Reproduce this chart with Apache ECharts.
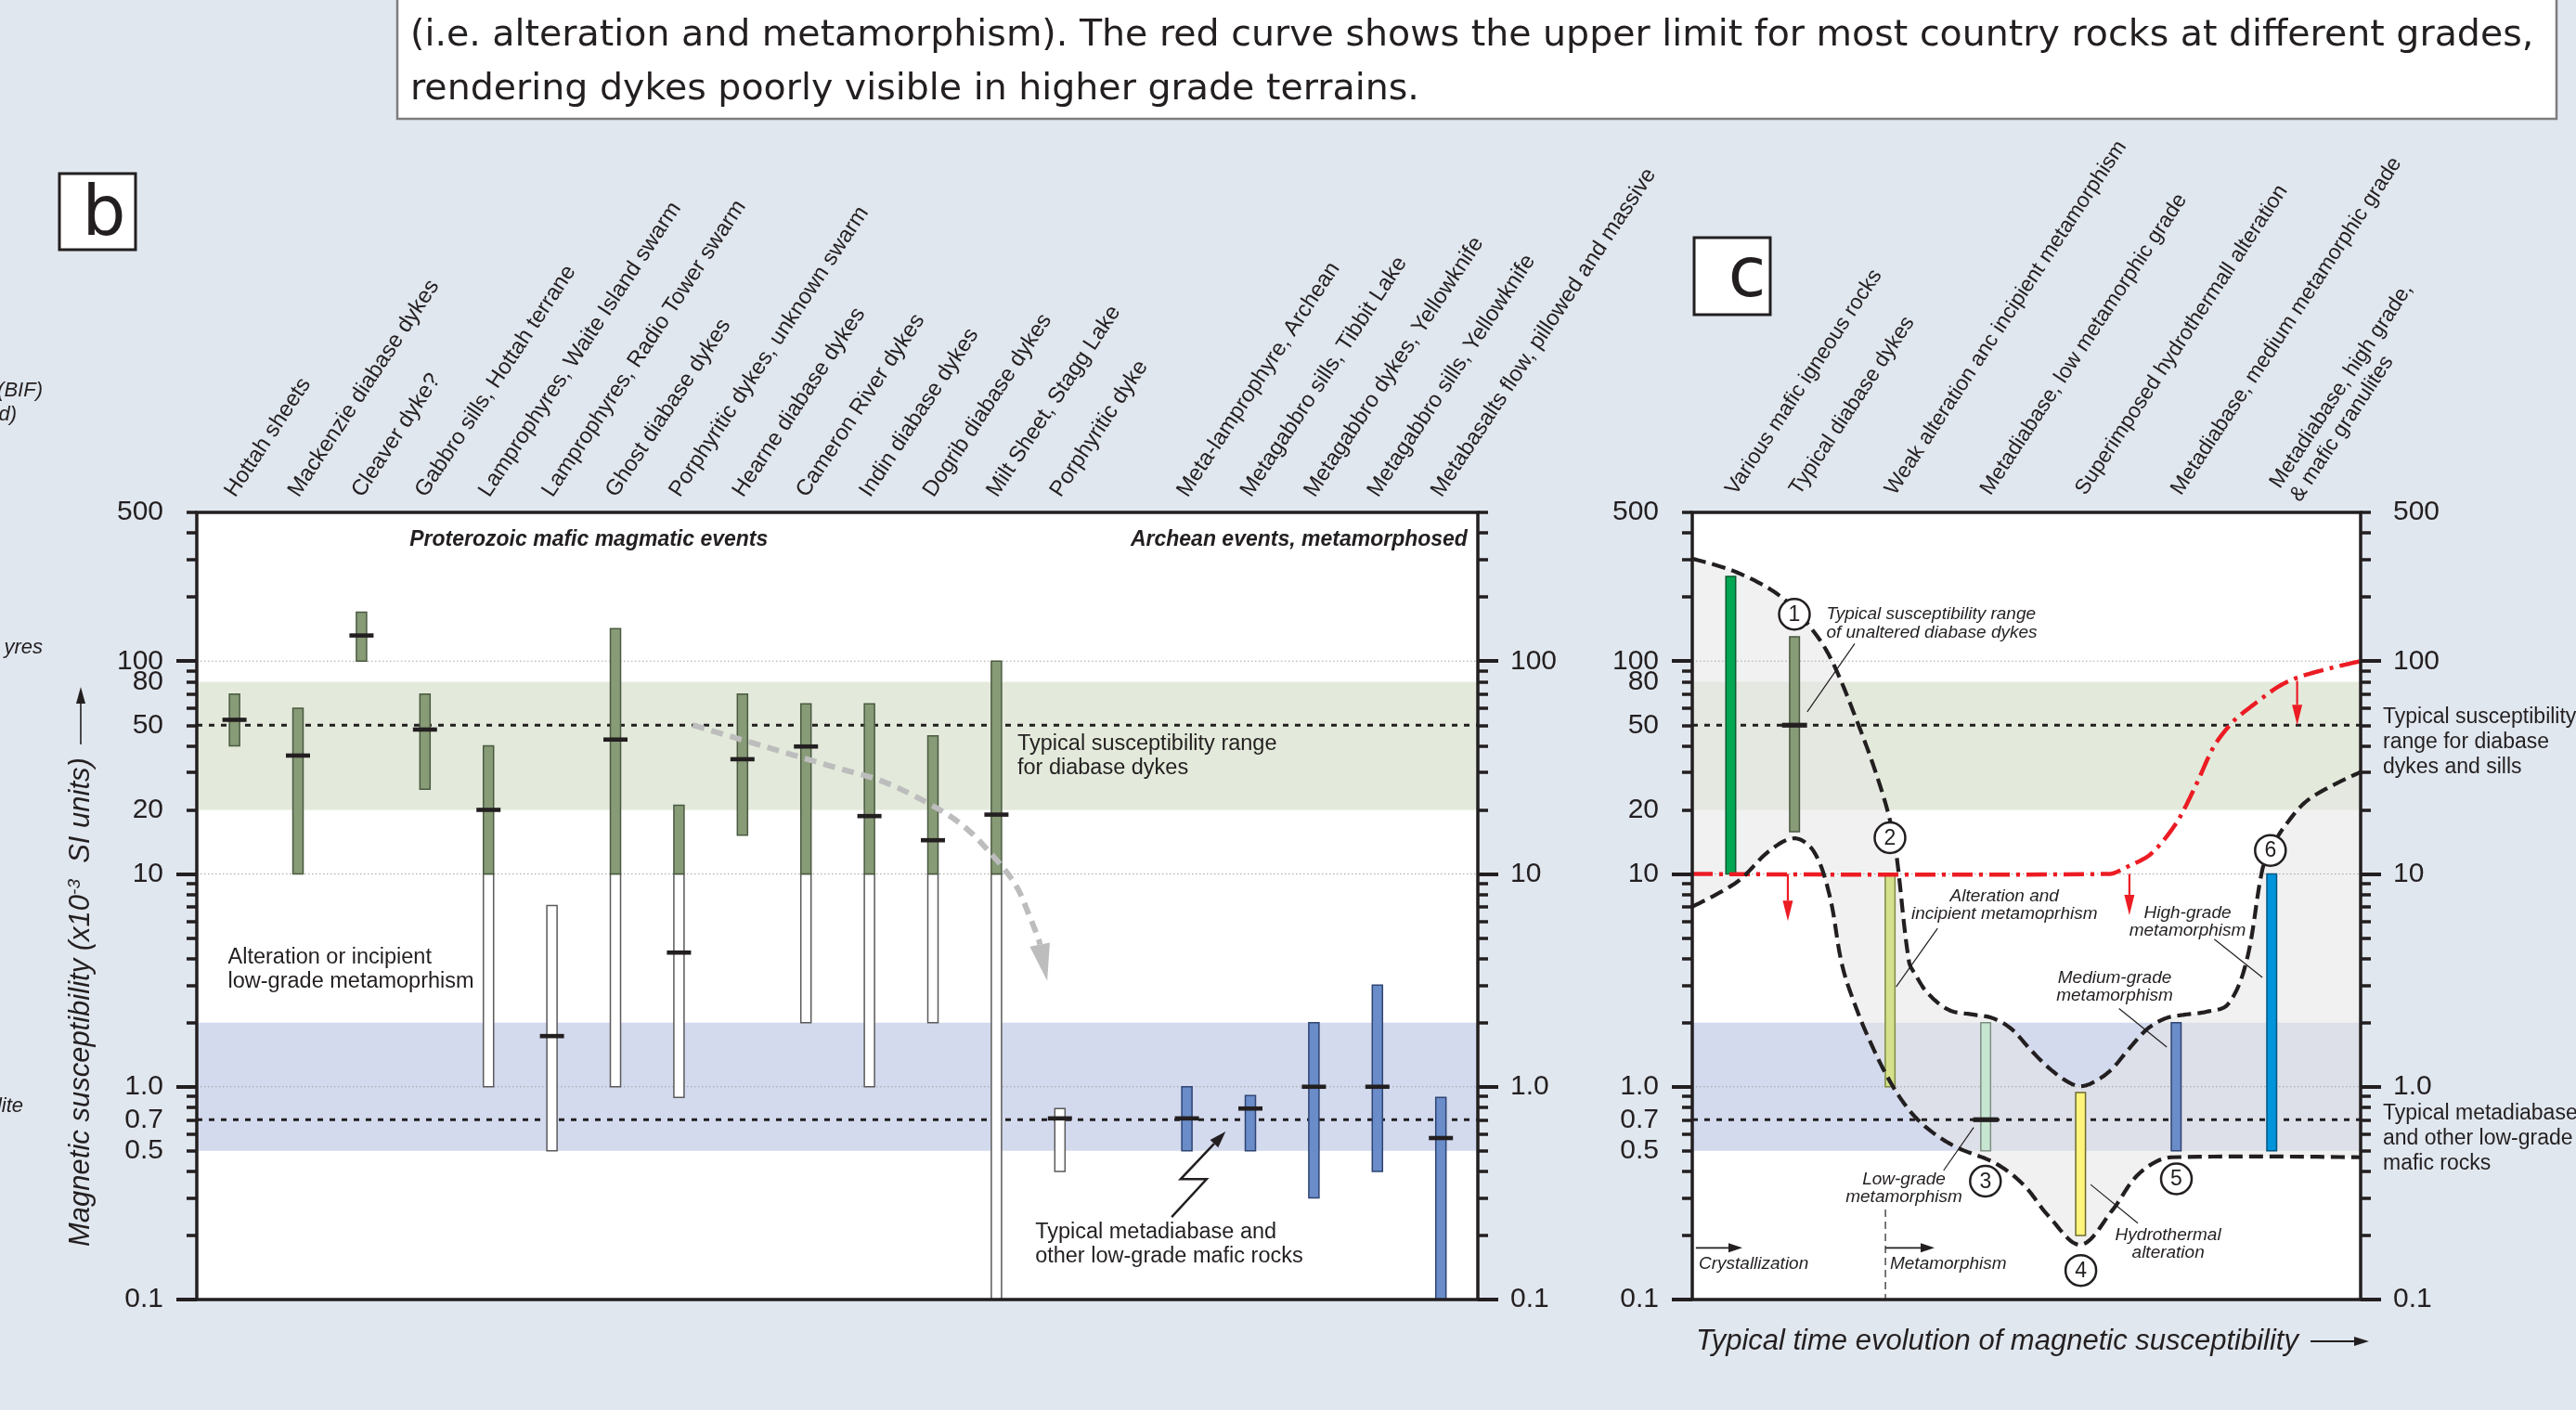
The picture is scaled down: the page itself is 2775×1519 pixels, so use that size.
<!DOCTYPE html>
<html>
<head>
<meta charset="utf-8">
<title>Magnetic susceptibility of mafic dykes</title>
<script src="https://cdn.jsdelivr.net/npm/echarts@6.0.0/dist/echarts.min.js"></script>
<style>
html,body{margin:0;padding:0;background:#e1e7ef;overflow:hidden}
#chart{width:2775px;height:1519px}
</style>
</head>
<body>
<div id="chart"></div>
<script>
// ================= DATA : panel b (measured populations) =================
const dykeNames = ['Hottah sheets','Mackenzie diabase dykes','Cleaver dyke?','Gabbro sills, Hottah terrane',
  'Lamprophyres, Waite Island swarm','Lamprophyres, Radio Tower swarm','Ghost diabase dykes',
  'Porphyritic dykes, unknown swarm','Hearne diabase dykes','Cameron River dykes','Indin diabase dykes',
  'Dogrib diabase dykes','Milt Sheet, Stagg Lake','Porphyritic dyke','',
  'Meta-lamprophyre, Archean','Metagabbro sills, Tibbit Lake','Metagabbro dykes, Yellowknife',
  'Metagabbro sills, Yellowknife','Metabasalts flow, pillowed and massive'];
const dykeGroup   = ['P','P','P','P','P','P','P','P','P','P','P','P','P','P','','A','A','A','A','A'];
const freshLow    = [40, 10, 100, 25, 10, null, 10, 10, 15.2, 10, 10, 10, 10, null, null, 0.5, 0.5, 0.30, 0.4, 0.1];
const freshHigh   = [70, 60, 170, 70, 40, null, 142, 21, 70, 63, 63, 44.5, 100, null, null, 1.0, 0.91, 2.0, 3.0, 0.89];
const alteredLow  = [null, null, null, null, 1.0, 0.5, 1.0, 0.89, null, 2.0, 1.0, 2.0, 0.1, 0.4, null, null, null, null, null, null];
const alteredHigh = [null, null, null, null, 10, 7.1, 10, 10, null, 10, 10, 10, 10, 0.79, null, null, null, null, null, null];
const dykeMean    = [53, 36, 132, 47.7, 20, 1.73, 42.8, 4.27, 34.6, 39.7, 18.7, 14.4, 19.0, 0.71, null, 0.71, 0.79, 1.0, 1.0, 0.574];

// ================= DATA : panel c (typical evolution) =================
const stageNames = ['Various mafic igneous rocks','Typical diabase dykes','Weak alteration anc incipient metamorphism',
  'Metadiabase, low metamorphic grade','Superimposed hydrothermall alteration',
  'Metadiabase, medium metamorphic grade','Metadiabase, high grade,\n& mafic granulites'];
const stageTime = [5.76, 15.3, 29.6, 43.9, 58.1, 72.4, 86.7];
const stageLow  = [10, 15.8, 1.0, 0.5, 0.2, 0.5, 0.5];
const stageHigh = [250, 130, 10, 2.0, 0.94, 2.0, 10];
const stageMean = [null, 50, null, 0.7, null, null, null];

const upperTime = [0,6.72,13.39,18.15,21.0,24.82,27.67,29.58,30.53,32.43,33.4,35.24,38.47,42.18,44.96,47.74,50.51,53.29,56.07,57.92,59.76,62.54,65.32,68.1,70.88,73.65,76.9,80.14,82.9,85.3,86.5,88.6,92.4,100];
const upperSus  = [303,261,199.5,138,98.8,50.6,28.6,17.9,12.4,3.87,3.36,2.75,2.29,2.18,2.1,1.87,1.505,1.23,1.06,1.007,1.04,1.19,1.505,1.87,2.1,2.18,2.25,2.44,3.87,10.5,12.9,16.7,22.6,30.1];
const lowerTime = [0,6.72,11.49,15.28,18.15,20.5,22.43,24.58,26.9,29.2,31.5,33.8,36.6,39.8,45.4,49.6,53.3,58.1,62.9,66.1,68.9,71.7,100];
const lowerSus  = [7.02,9.18,12.8,14.7,12.8,8.03,3.72,2.32,1.556,1.113,0.851,0.697,0.59,0.515,0.436,0.345,0.247,0.181,0.264,0.369,0.436,0.466,0.466];
const limitTime = [0, 62.4, 64.8, 68.6, 72.4, 75.3, 78.1, 81.0, 83.8, 87.6, 90.5, 95.3, 100];
const limitSus  = [10, 10, 10.7, 12.4, 17.3, 25.9, 40, 52.3, 61.8, 75.6, 83.6, 92.4, 100];
const limitArrowTime = [14.3, 65.4, 90.5];
const limitArrowFrom = [10, 10, 80.8];
const limitArrowTo   = [6.0, 6.4, 50];
const stepTime = [15.28, 29.58, 43.86, 58.14, 72.43, 86.5];
const stepSus  = [166, 14.8, 0.36, 0.137, 0.369, 12.9];

// reference ranges / levels
const dykeRange = [20, 80];
const metaRange = [0.5, 2];
const typicalLevels = [50, 0.7];
const gridLevels = [1, 10, 100];

// tick labels
const yLabelsLeft   = ['0.1','0.5','0.7','1.0','10','20','50','80','100','500'];
const yLabelsRightB = ['0.1','1.0','10','100'];
const yLabelsRightC = ['0.1','1.0','10','100','500'];
const majorTicks = [0.1, 1, 10, 100];
const minorTicks = [0.1, 1, 10, 100].flatMap(d => [2,3,4,5,6,7,8,9].map(k => d * k)).filter(v => v <= 500.0001);

// annotation paths (data coordinates)
const trendTime = [7.215, 9.47, 10.21, 10.96, 11.48, 11.92, 12.30, 12.52, 12.67, 12.8];
const trendSus  = [50.07, 31.6, 27.2, 21.2, 16.8, 12.4, 8.9, 6.35, 4.87, 3.14];
const boltSlot  = [14.76, 15.31, 14.9, 15.61];
const boltSus   = [0.244, 0.368, 0.368, 0.616];

// ================= helpers =================
const L = v => (v === null || v === undefined) ? NaN : Math.log10(v);
const Y_MIN = L(0.1), Y_MAX = L(500);
const B_XMIN = -0.594, B_XMAX = 19.582;
const INK = '#231f20';
const SANS = '"Liberation Sans", Arial, Helvetica, sans-serif';

function head(tip, from, len, wid) {
  const dx = tip[0] - from[0], dy = tip[1] - from[1];
  const d = Math.hypot(dx, dy) || 1, ux = dx / d, uy = dy / d;
  const bx = tip[0] - ux * len, by = tip[1] - uy * len;
  return { base: [bx, by], pts: [[tip[0], tip[1]], [bx - uy * wid / 2, by + ux * wid / 2], [bx + uy * wid / 2, by - ux * wid / 2]] };
}
// cubic-bezier smoothing of a pixel polyline, sampled densely
function smoothPts(points, smooth) {
  const n = points.length;
  if (n < 3) return points;
  const cps = [];
  for (let i = 0; i < n; i++) {
    if (i === 0 || i === n - 1) { cps.push(points[i]); continue; }
    const prev = points[i - 1], next = points[i + 1], p = points[i];
    const vx = (next[0] - prev[0]) * smooth, vy = (next[1] - prev[1]) * smooth;
    let d0 = Math.hypot(p[0] - prev[0], p[1] - prev[1]), d1 = Math.hypot(p[0] - next[0], p[1] - next[1]);
    const s = d0 + d1; if (s) { d0 /= s; d1 /= s; }
    cps.push([p[0] - vx * d0, p[1] - vy * d0]);
    cps.push([p[0] + vx * d1, p[1] + vy * d1]);
  }
  const out = [points[0]];
  for (let i = 0; i < n - 1; i++) {
    const a = points[i], c1 = cps[2 * i], c2 = cps[2 * i + 1], b = points[i + 1];
    for (let k = 1; k <= 16; k++) {
      const t = k / 16, u = 1 - t;
      out.push([u * u * u * a[0] + 3 * u * u * t * c1[0] + 3 * u * t * t * c2[0] + t * t * t * b[0],
                u * u * u * a[1] + 3 * u * u * t * c1[1] + 3 * u * t * t * c2[1] + t * t * t * b[1]]);
    }
  }
  return out;
}
function nearestLabel(labels, v) {
  let best = labels[0], bd = 1e9;
  labels.forEach(s => { const d = Math.abs(L(parseFloat(s)) - v); if (d < bd) { bd = d; best = s; } });
  return best;
}
function cs(panel, name, data, renderItem, z, clip) {
  return { type: 'custom', name, xAxisIndex: panel, yAxisIndex: panel * 4, data, renderItem, z, clip: !!clip, silent: true };
}
function textEl(x, y, text, font, align, lh) {
  return { type: 'text', x, y, style: { text, font, fill: INK, align, textAlign: align, verticalAlign: 'middle', textVerticalAlign: 'middle', lineHeight: lh } };
}

// annotations
const annoB = [
  { t: 'Proterozoic mafic magmatic events', x: 5.58, y: 373, a: 'center', f: 'italic bold 23px ' + SANS },
  { t: 'Archean events, metamorphosed', x: 19.42, y: 373, a: 'right', f: 'italic bold 23px ' + SANS },
  { t: 'Typical susceptibility range\nfor diabase dykes', x: 12.33, y: 35.9, a: 'left', f: '23.5px ' + SANS, lh: 26 },
  { t: 'Alteration or incipient\nlow-grade metamoprhism', x: -0.104, y: 3.57, a: 'left', f: '23.5px ' + SANS, lh: 26 },
  { t: 'Typical metadiabase and\nother low-grade mafic rocks', x: 12.61, y: 0.181, a: 'left', f: '23.5px ' + SANS, lh: 26 }
];
const annoC = [
  { t: 'Typical susceptibility range\nof unaltered diabase dykes', x: 20.06, y: 150, a: 'left', f: 'italic 19px ' + SANS, lh: 20 },
  { t: 'Alteration and\nincipient metamoprhism', x: 46.7, y: 7.1, a: 'center', f: 'italic 19px ' + SANS, lh: 19 },
  { t: 'High-grade\nmetamorphism', x: 74.1, y: 5.96, a: 'center', f: 'italic 19px ' + SANS, lh: 19 },
  { t: 'Medium-grade\nmetamorphism', x: 63.2, y: 2.93, a: 'center', f: 'italic 19px ' + SANS, lh: 19 },
  { t: 'Low-grade\nmetamorphism', x: 31.67, y: 0.334, a: 'center', f: 'italic 19px ' + SANS, lh: 19 },
  { t: 'Hydrothermal\nalteration', x: 71.2, y: 0.1827, a: 'center', f: 'italic 19px ' + SANS, lh: 19 },
  { t: 'Crystallization', x: 0.97, y: 0.1465, a: 'left', f: 'italic 19px ' + SANS },
  { t: 'Metamorphism', x: 29.58, y: 0.1465, a: 'left', f: 'italic 19px ' + SANS }
];
const leadersC = [
  [24.3, 120.8, 17.2, 57.8, 0], [36.7, 5.55, 30.5, 2.95, 0], [78.1, 4.94, 85.3, 3.26, 0],
  [63.85, 2.33, 71.0, 1.536, 0], [37.6, 0.404, 42.1, 0.644, 0], [66.67, 0.2286, 59.6, 0.347, 0],
  [28.9, 0.265, 28.9, 0.1, 1]
];
const phaseArrowsC = [[0.53, 0.175, 7.5], [28.9, 0.175, 36.25]];

// ================= axes =================
function yAxisDef(panel, side, major, labels) {
  return {
    gridIndex: panel, type: 'value', position: side, min: Y_MIN, max: Y_MAX, offset: 0,
    axisLine: { show: false, onZero: false }, splitLine: { show: false },
    axisTick: { show: true, inside: false, length: major ? 22 : 11, customValues: (major ? majorTicks : minorTicks).map(L),
      lineStyle: { color: INK, width: major ? 4 : 3.5 } },
    axisLabel: labels ? { show: true, customValues: labels.map(s => L(parseFloat(s))), formatter: v => nearestLabel(labels, v),
      margin: side === 'left' ? 36 : 35, fontSize: 30, fontFamily: SANS, color: INK } : { show: false }
  };
}
const labelPosB = [], labelNameB = [];
dykeNames.forEach((n, i) => { if (n) { labelPosB.push(i - 0.07); labelNameB.push(n); } });
const labelPosC = stageTime.map((t, i) => t + (i === 6 ? 2.0 : 0));
function nearestName(pos, names, v) {
  let bi = 0, bd = 1e9; pos.forEach((p, i) => { const d = Math.abs(p - v); if (d < bd) { bd = d; bi = i; } });
  return names[bi];
}

// ================= series =================
const series = [];
// ---- panel b
series.push(cs(0, 'bandsB', [[B_XMIN, L(dykeRange[0]), L(dykeRange[1]), 0], [B_XMIN, L(metaRange[0]), L(metaRange[1]), 1]], (p, api) => {
  const c = p.coordSys, y1 = api.coord([0, api.value(2)])[1], y0 = api.coord([0, api.value(1)])[1];
  return { type: 'rect', shape: { x: c.x, y: y1, width: c.width, height: y0 - y1 }, style: { fill: api.value(3) ? '#d3daee' : '#e3eadb' } };
}, 1));
function hlines(panel, xmin, levels, style, z) {
  return cs(panel, 'levels', levels.map(v => [xmin, L(v)]), (p, api) => {
    const c = p.coordSys, y = api.coord([api.value(0), api.value(1)])[1];
    return { type: 'line', shape: { x1: c.x, y1: y, x2: c.x + c.width, y2: y }, style };
  }, z);
}
series.push(hlines(0, B_XMIN, gridLevels, { stroke: '#a3a3a3', lineWidth: 1, lineDash: [1.5, 2.5] }, 2));
series.push(hlines(0, B_XMIN, typicalLevels, { stroke: INK, lineWidth: 3, lineDash: [6, 7] }, 3));
const barsBData = [];
dykeNames.forEach((n, i) => { if (n) barsBData.push([i, L(dykeMean[i]), L(freshLow[i]), L(freshHigh[i]), L(alteredLow[i]), L(alteredHigh[i]), dykeGroup[i] === 'A' ? 1 : 0]); });
series.push(cs(0, 'dykes', barsBData, (p, api) => {
  const s = api.value(0), mean = api.value(1), lo = api.value(2), hi = api.value(3), alo = api.value(4), ahi = api.value(5), grp = api.value(6);
  const W = 11, ch = [];
  const bar = (a, b, fill, stroke) => {
    const t = api.coord([s, b]), bt = api.coord([s, a]);
    ch.push({ type: 'rect', shape: { x: t[0] - W / 2, y: t[1], width: W, height: bt[1] - t[1] }, style: { fill, stroke, lineWidth: 1.5 } });
  };
  if (!isNaN(alo)) bar(alo, ahi, '#ffffff', '#5a5a5a');
  if (!isNaN(lo)) bar(lo, hi, grp ? '#6a8cc9' : '#879b77', grp ? '#2f4472' : '#4b5a41');
  if (!isNaN(mean)) { const m = api.coord([s, mean]); ch.push({ type: 'rect', shape: { x: m[0] - 13, y: m[1] - 2.3, width: 26, height: 4.6 }, style: { fill: INK } }); }
  return { type: 'group', children: ch };
}, 5));
series.push(cs(0, 'trend', [[trendTime[0], L(trendSus[0])]], (p, api) => {
  const pts = trendTime.map((x, i) => api.coord([x, L(trendSus[i])]));
  const h = head(pts[pts.length - 1], pts[pts.length - 2], 40, 22);
  const line = smoothPts(pts.slice(0, -1).concat([h.base]), 0.35);
  return { type: 'group', children: [
    { type: 'polyline', shape: { points: line }, style: { stroke: '#bdbdbd', lineWidth: 6, lineDash: [13, 8], fill: null } },
    { type: 'polygon', shape: { points: h.pts }, style: { fill: '#bdbdbd' } } ] };
}, 6));
series.push(cs(0, 'bolt', [[boltSlot[0], L(boltSus[0])]], (p, api) => {
  const pts = boltSlot.map((x, i) => api.coord([x, L(boltSus[i])]));
  const h = head(pts[3], pts[2], 18, 12);
  return { type: 'group', children: [
    { type: 'polyline', shape: { points: pts.slice(0, 3).concat([h.base]) }, style: { stroke: INK, lineWidth: 2.5, fill: null } },
    { type: 'polygon', shape: { points: h.pts }, style: { fill: INK } } ] };
}, 7));
series.push(cs(0, 'annoB', annoB.map((a, i) => [a.x, L(a.y), i]), (p, api) => {
  const a = annoB[api.value(2)], q = api.coord([api.value(0), api.value(1)]);
  return textEl(q[0], q[1], a.t, a.f, a.a, a.lh);
}, 8));
function frame(panel, xmin) {
  return cs(panel, 'frame', [[xmin, Y_MIN]], (p) => {
    const c = p.coordSys;
    return { type: 'rect', shape: { x: c.x, y: c.y, width: c.width, height: c.height }, style: { fill: null, stroke: INK, lineWidth: 3.5 } };
  }, 20);
}
series.push(frame(0, B_XMIN));

// ---- panel c
series.push(cs(1, 'bandsC', [[0, L(dykeRange[0]), L(dykeRange[1]), 0], [0, L(metaRange[0]), L(metaRange[1]), 1]], (p, api) => {
  const c = p.coordSys, y1 = api.coord([0, api.value(2)])[1], y0 = api.coord([0, api.value(1)])[1];
  return { type: 'rect', shape: { x: c.x, y: y1, width: c.width, height: y0 - y1 }, style: { fill: api.value(3) ? '#d3daee' : '#e3eadb' } };
}, 1));
series.push(cs(1, 'envelope', [[upperTime[0], L(upperSus[0])]], (p, api) => {
  const up = smoothPts(upperTime.map((x, i) => api.coord([x, L(upperSus[i])])), 0.35);
  const lo = smoothPts(lowerTime.map((x, i) => api.coord([x, L(lowerSus[i])])), 0.35).reverse();
  return { type: 'polygon', shape: { points: up.concat(lo) }, style: { fill: 'rgba(230,230,230,0.55)' } };
}, 2, true));
series.push(hlines(1, 0, gridLevels, { stroke: '#a3a3a3', lineWidth: 1, lineDash: [1.5, 2.5] }, 3));
series.push(hlines(1, 0, typicalLevels, { stroke: INK, lineWidth: 3, lineDash: [6, 7] }, 3));
const stageFill = ['#00a651', '#879b77', '#d5e08c', '#c7e6d2', '#fff57c', '#6a8cc9', '#0094da'];
const stageStroke = ['#0c5a30', '#4b5a41', '#7f8c45', '#7d8f83', '#6d6a2c', '#2f4472', '#00557f'];
series.push(cs(1, 'stages', stageTime.map((t, i) => [t, L(stageLow[i]), L(stageHigh[i]), L(stageMean[i]), i]), (p, api) => {
  const x = api.value(0), lo = api.value(1), hi = api.value(2), mean = api.value(3), k = api.value(4);
  const t = api.coord([x, hi]), b = api.coord([x, lo]), W = 10.5, ch = [];
  ch.push({ type: 'rect', shape: { x: t[0] - W / 2, y: t[1], width: W, height: b[1] - t[1] }, style: { fill: stageFill[k], stroke: stageStroke[k], lineWidth: 1.5 } });
  if (!isNaN(mean)) { const m = api.coord([x, mean]); ch.push({ type: 'rect', shape: { x: m[0] - 13.5, y: m[1] - 2.6, width: 27, height: 5.2 }, style: { fill: INK } }); }
  return { type: 'group', children: ch };
}, 5));
series.push(cs(1, 'limit', [[limitTime[0], L(limitSus[0])]], (p, api) => {
  const pts = smoothPts(limitTime.map((x, i) => api.coord([x, L(limitSus[i])])), 0.3);
  return { type: 'polyline', shape: { points: pts }, style: { stroke: '#ec1c24', lineWidth: 4.5, lineDash: [22, 7, 4, 7], fill: null } };
}, 6));
series.push(cs(1, 'limitArrows', limitArrowTime.map((t, i) => [t, L(limitArrowFrom[i]), L(limitArrowTo[i])]), (p, api) => {
  const a = api.coord([api.value(0), api.value(1)]), b = api.coord([api.value(0), api.value(2)]);
  const h = head(b, a, 22, 11);
  return { type: 'group', children: [
    { type: 'line', shape: { x1: a[0], y1: a[1], x2: h.base[0], y2: h.base[1] }, style: { stroke: '#ec1c24', lineWidth: 2.2 } },
    { type: 'polygon', shape: { points: h.pts }, style: { fill: '#ec1c24' } } ] };
}, 6));
function dashedCurve(name, xs, ys) {
  return cs(1, name, [[xs[0], L(ys[0])]], (p, api) => {
    const pts = smoothPts(xs.map((x, i) => api.coord([x, L(ys[i])])), 0.35);
    return { type: 'polyline', shape: { points: pts }, style: { stroke: INK, lineWidth: 4.2, lineDash: [15, 7], fill: null } };
  }, 7, true);
}
series.push(dashedCurve('upper', upperTime, upperSus));
series.push(dashedCurve('lower', lowerTime, lowerSus));
series.push(cs(1, 'leaders', leadersC.map(l => [l[0], L(l[1]), l[2], L(l[3]), l[4]]), (p, api) => {
  const a = api.coord([api.value(0), api.value(1)]), b = api.coord([api.value(2), api.value(3)]);
  return { type: 'line', shape: { x1: a[0], y1: a[1], x2: b[0], y2: b[1] }, style: { stroke: INK, lineWidth: 1.2, lineDash: api.value(4) ? [8, 5] : null } };
}, 8));
series.push(cs(1, 'phaseArrows', phaseArrowsC.map(a => [a[0], L(a[1]), a[2]]), (p, api) => {
  const a = api.coord([api.value(0), api.value(1)]), b = api.coord([api.value(2), api.value(1)]);
  const h = head(b, a, 15, 10);
  return { type: 'group', children: [
    { type: 'line', shape: { x1: a[0], y1: a[1], x2: h.base[0], y2: h.base[1] }, style: { stroke: INK, lineWidth: 1.8 } },
    { type: 'polygon', shape: { points: h.pts }, style: { fill: INK } } ] };
}, 8));
series.push(cs(1, 'annoC', annoC.map((a, i) => [a.x, L(a.y), i]), (p, api) => {
  const a = annoC[api.value(2)], q = api.coord([api.value(0), api.value(1)]);
  return textEl(q[0], q[1], a.t, a.f, a.a, a.lh);
}, 8));
series.push(cs(1, 'steps', stepTime.map((t, i) => [t, L(stepSus[i]), i + 1]), (p, api) => {
  const q = api.coord([api.value(0), api.value(1)]);
  return { type: 'group', children: [
    { type: 'circle', shape: { cx: q[0], cy: q[1], r: 16.5 }, style: { fill: '#ffffff', stroke: INK, lineWidth: 2.5 } },
    textEl(q[0], q[1] + 1, String(api.value(2)), '23px ' + SANS, 'center') ] };
}, 9));
series.push(frame(1, 0));

// ================= decorations (outside the plots) =================
const capFont = '39.5px "DejaVu Sans", ' + SANS;
const graphic = [
  { type: 'rect', shape: { x: 428, y: -10, width: 2326, height: 138 }, style: { fill: '#ffffff', stroke: '#7d7d7d', lineWidth: 2.5 } },
  { type: 'text', x: 442, y: 39, style: { text: '(i.e. alteration and metamorphism). The red curve shows the upper limit for most country rocks at different grades,', font: capFont, fill: INK, verticalAlign: 'middle', textVerticalAlign: 'middle' } },
  { type: 'text', x: 442, y: 97, style: { text: 'rendering dykes poorly visible in higher grade terrains.', font: capFont, fill: INK, verticalAlign: 'middle', textVerticalAlign: 'middle' } },
  { type: 'rect', shape: { x: 64, y: 187, width: 82, height: 82 }, style: { fill: '#ffffff', stroke: INK, lineWidth: 3 } },
  { type: 'text', x: 112, y: 234, style: { text: 'b', font: '74px "DejaVu Sans", ' + SANS, fill: INK, align: 'center', textAlign: 'center', verticalAlign: 'middle', textVerticalAlign: 'middle' } },
  { type: 'rect', shape: { x: 1825, y: 256, width: 82, height: 83 }, style: { fill: '#ffffff', stroke: INK, lineWidth: 3 } },
  { type: 'text', x: 1882, y: 300, style: { text: 'c', font: '74px "DejaVu Sans", ' + SANS, fill: INK, align: 'center', textAlign: 'center', verticalAlign: 'middle', textVerticalAlign: 'middle' } },
  { type: 'text', x: 87, y: 1343, rotation: Math.PI / 2, style: {
      text: '{a|Magnetic susceptibility (x10}{s|-3}{a|  SI units)}', align: 'left', textAlign: 'left', verticalAlign: 'middle', textVerticalAlign: 'middle',
      rich: { a: { font: 'italic 31px ' + SANS, fill: INK }, s: { font: 'italic 19px ' + SANS, fill: INK, verticalAlign: 'top', padding: [0, 0, 12, 0] } } } },
  { type: 'line', shape: { x1: 87, y1: 802, x2: 87, y2: 756 }, style: { stroke: INK, lineWidth: 1.6 } },
  { type: 'polygon', shape: { points: [[87, 740], [82, 758], [92, 758]] }, style: { fill: INK } },
  { type: 'text', x: 1827, y: 1445, style: { text: 'Typical time evolution of magnetic susceptibility', font: 'italic 31px ' + SANS, fill: INK, verticalAlign: 'middle', textVerticalAlign: 'middle' } },
  { type: 'line', shape: { x1: 2489, y1: 1445, x2: 2538, y2: 1445 }, style: { stroke: INK, lineWidth: 1.8 } },
  { type: 'polygon', shape: { points: [[2552, 1445], [2536, 1440], [2536, 1450]] }, style: { fill: INK } },
  { type: 'text', x: 2567, y: 800, style: { text: 'Typical susceptibility\nrange for diabase\ndykes and sills', font: '23px ' + SANS, lineHeight: 27, fill: INK, verticalAlign: 'middle', textVerticalAlign: 'middle' } },
  { type: 'text', x: 2567, y: 1227, style: { text: 'Typical metadiabase\nand other low-grade\nmafic rocks', font: '23px ' + SANS, lineHeight: 27, fill: INK, verticalAlign: 'middle', textVerticalAlign: 'middle' } },
  { type: 'text', x: 46, y: 421, style: { text: '(BIF)', font: 'italic 22px ' + SANS, fill: INK, align: 'right', textAlign: 'right', verticalAlign: 'middle', textVerticalAlign: 'middle' } },
  { type: 'text', x: 18, y: 447, style: { text: 'd)', font: 'italic 22px ' + SANS, fill: INK, align: 'right', textAlign: 'right', verticalAlign: 'middle', textVerticalAlign: 'middle' } },
  { type: 'text', x: 46, y: 698, style: { text: 'yres', font: 'italic 22px ' + SANS, fill: INK, align: 'right', textAlign: 'right', verticalAlign: 'middle', textVerticalAlign: 'middle' } },
  { type: 'text', x: 25, y: 1192, style: { text: 'lite', font: 'italic 22px ' + SANS, fill: INK, align: 'right', textAlign: 'right', verticalAlign: 'middle', textVerticalAlign: 'middle' } }
];

const option = {
  backgroundColor: '#e1e7ef',
  animation: false,
  textStyle: { fontFamily: SANS },
  grid: [
    { left: 212, top: 552, width: 1380, height: 848, show: true, backgroundColor: '#ffffff', borderWidth: 0, containLabel: false, outerBoundsMode: 'none' },
    { left: 1823, top: 552, width: 720, height: 848, show: true, backgroundColor: '#ffffff', borderWidth: 0, containLabel: false, outerBoundsMode: 'none' }
  ],
  xAxis: [
    { gridIndex: 0, type: 'value', position: 'top', min: B_XMIN, max: B_XMAX, axisLine: { show: false }, axisTick: { show: false }, splitLine: { show: false },
      axisLabel: { customValues: labelPosB, formatter: v => nearestName(labelPosB, labelNameB, v), rotate: 56.5, margin: 19, fontSize: 24, fontFamily: SANS, color: INK } },
    { gridIndex: 1, type: 'value', position: 'top', min: 0, max: 100, axisLine: { show: false }, axisTick: { show: false }, splitLine: { show: false },
      axisLabel: { customValues: labelPosC, formatter: v => nearestName(labelPosC, stageNames, v), rotate: 56.5, margin: 21, fontSize: 23, lineHeight: 26, fontFamily: SANS, color: INK } }
  ],
  yAxis: [
    yAxisDef(0, 'left', false, yLabelsLeft), yAxisDef(0, 'left', true, null),
    yAxisDef(0, 'right', false, yLabelsRightB), yAxisDef(0, 'right', true, null),
    yAxisDef(1, 'left', false, yLabelsLeft), yAxisDef(1, 'left', true, null),
    yAxisDef(1, 'right', false, yLabelsRightC), yAxisDef(1, 'right', true, null)
  ],
  graphic: { elements: graphic },
  series
};
const chart = echarts.init(document.getElementById('chart'), null, { renderer: 'canvas', width: 2775, height: 1519 });
chart.setOption(option);
</script>
</body>
</html>
